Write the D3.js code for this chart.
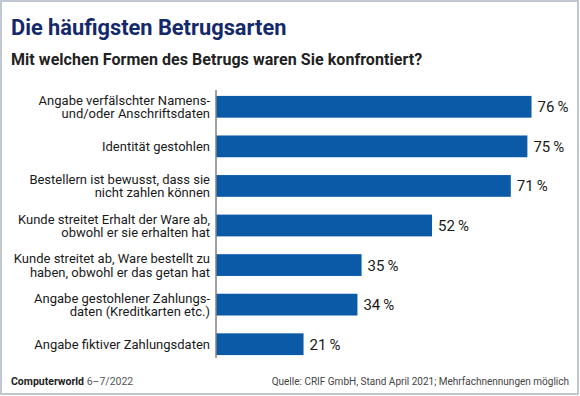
<!DOCTYPE html>
<html>
<head>
<meta charset="utf-8">
<script src="https://cdn.jsdelivr.net/npm/d3@7"></script>
<style>
  body { margin: 0; background: #fff; }
  svg { display: block; font-family: Roboto, "Noto Sans", sans-serif; }
</style>
</head>
<body>
<div id="chart"></div>
<script>
// data
var categories = [
  ["Angabe verfälschter Namens-", "und/oder Anschriftsdaten"],
  ["Identität gestohlen"],
  ["Bestellern ist bewusst, dass sie", "nicht zahlen können"],
  ["Kunde streitet Erhalt der Ware ab,", "obwohl er sie erhalten hat"],
  ["Kunde streitet ab, Ware bestellt zu", "haben, obwohl er das getan hat"],
  ["Angabe gestohlener Zahlungs-", "daten (Kreditkarten etc.)"],
  ["Angabe fiktiver Zahlungsdaten"]
];
var values = [76, 75, 71, 52, 35, 34, 21];

var width = 580, height = 396;

var svg = d3.select("#chart")
    .append("svg")
    .attr("width", width)
    .attr("height", height);

// frame
svg.append("rect")
    .attr("x", 1).attr("y", 1)
    .attr("width", width - 3).attr("height", height - 3)
    .attr("fill", "#fff")
    .attr("stroke", "#bfc8d1")
    .attr("stroke-width", 2);

// titles
svg.append("text")
    .attr("x", 11).attr("y", 35)
    .attr("font-size", 21.8).attr("font-weight", 700)
    .attr("fill", "#14296b")
    .text("Die häufigsten Betrugsarten");

svg.append("text")
    .attr("x", 11).attr("y", 65)
    .attr("font-size", 16).attr("font-weight", 700)
    .attr("letter-spacing", 0.05)
    .attr("fill", "#222")
    .text("Mit welchen Formen des Betrugs waren Sie konfrontiert?");

// scales
var x = d3.scaleLinear().domain([0, 100]).range([216.5, 631]);
var y = d3.scaleBand()
    .domain(d3.range(values.length))
    .range([88, 363])
    .paddingInner(0.45)
    .paddingOuter(0.2);

var g = svg.append("g");

g.selectAll("rect.bar")
    .data(values)
    .enter()
    .append("rect")
    .attr("class", "bar")
    .attr("x", x(0))
    .attr("y", function(d, i) { return y(i); })
    .attr("width", function(d) { return x(d) - x(0); })
    .attr("height", y.bandwidth())
    .attr("fill", "#0a5aa8");

// value labels
g.selectAll("text.val")
    .data(values)
    .enter()
    .append("text")
    .attr("class", "val")
    .attr("x", function(d) { return x(d) + 6; })
    .attr("y", function(d, i) { return y(i) + y.bandwidth() / 2 + 5.5; })
    .attr("font-size", 15)
    .attr("fill", "#1a1a1a")
    .text(function(d) { return d + "\u2009%"; });

// category labels
var labels = g.selectAll("text.cat")
    .data(categories)
    .enter()
    .append("text")
    .attr("class", "cat")
    .attr("text-anchor", "end")
    .attr("font-size", 13)
    .attr("fill", "#1a1a1a")
    .attr("y", function(d, i) {
        var c = y(i) + y.bandwidth() / 2;
        return d.length > 1 ? c - 2 : c + 5;
    });

labels.selectAll("tspan")
    .data(function(d) { return d; })
    .enter()
    .append("tspan")
    .attr("x", 210)
    .attr("dy", function(d, i) { return i === 0 ? 0 : 13.5; })
    .text(function(d) { return d; });

// axis line
g.append("line")
    .attr("x1", 216).attr("x2", 216)
    .attr("y1", 90).attr("y2", 358)
    .attr("stroke", "#444")
    .attr("stroke-width", 1);

// footer
var foot = svg.append("text")
    .attr("x", 11).attr("y", 385)
    .attr("font-size", 10.5)
    .attr("fill", "#222");
foot.append("tspan").attr("font-weight", 700).text("Computerworld ");
foot.append("tspan").attr("fill", "#555").text("6–7/2022");

svg.append("text")
    .attr("x", 569).attr("y", 385)
    .attr("text-anchor", "end")
    .attr("font-size", 10)
    .attr("fill", "#444")
    .text("Quelle: CRIF GmbH, Stand April 2021; Mehrfachnennungen möglich");
</script>
</body>
</html>
